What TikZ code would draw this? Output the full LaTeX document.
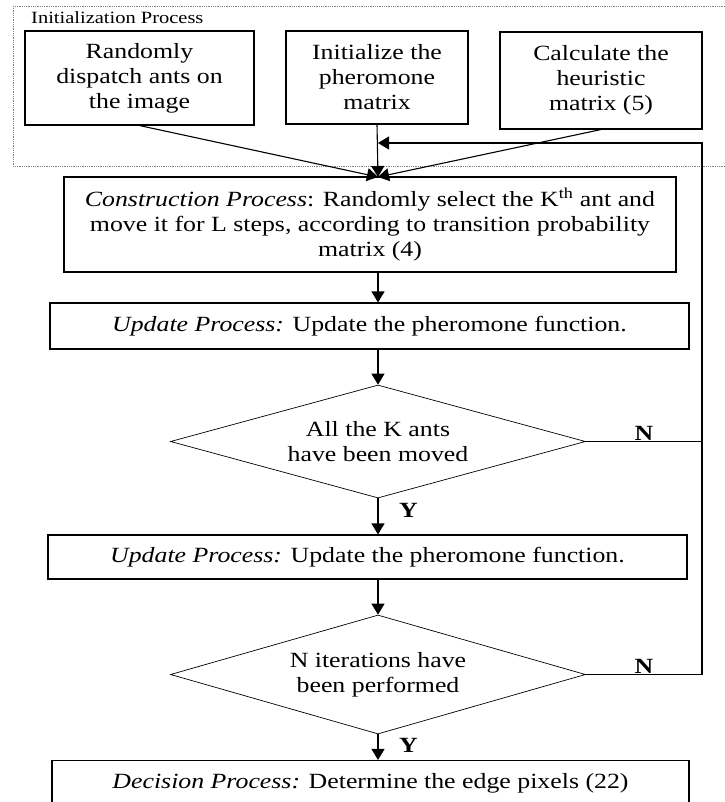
\documentclass[tikz,border=0pt]{standalone}
\usepackage{fontspec}
\setmainfont{Liberation Serif}[FakeStretch=1.19]
\usetikzlibrary{arrows.meta, positioning, shapes.geometric}

\tikzset{
  procbox/.style={draw, line width=1.1pt, align=center, inner sep=0pt},
  decision/.style={draw, diamond, line width=0.7pt, align=center, inner sep=0pt},
  flow/.style={line width=1.1pt, -{Triangle[width=13pt,length=11pt]}},
  yn/.style={font=\fontsize{21.7}{25}\selectfont\bfseries, inner sep=0.5pt},
}

\begin{document}
\begin{tikzpicture}[x=1pt,y=-1pt,font=\fontsize{21.7}{25}\selectfont]
  \useasboundingbox (0,0) rectangle (724,802);
  % initialization frame
  \draw[densely dotted, gray, line width=0.8pt] (13,6) rectangle (740,166);
  \node[anchor=west, inner sep=0pt, font=\fontsize{17.2}{19}\selectfont] (initlbl) at (31,18) {Initialization Process};

  \node[procbox, minimum width=229pt, minimum height=94pt] (dispatch) at (139.5,78) {Randomly\\dispatch ants on\\the image};
  \node[procbox, minimum width=182pt, minimum height=93pt] (initpher) at (377,77.5) {Initialize the\\pheromone\\matrix};
  \node[procbox, minimum width=202pt, minimum height=97pt] (heur) at (601,80.5) {Calculate the\\heuristic\\matrix (5)};

  % main column
  \node[procbox, minimum width=612pt, minimum height=95pt] (cons) at (370,224.5)
    {\textit{Construction Process}: Randomly select the K\textsuperscript{th} ant and\\move it for L steps, according to transition probability\\matrix (4)};
  \node[procbox, minimum width=639pt, minimum height=46pt] (upd1) at (369.5,326)
    {\textit{Update Process:} Update the pheromone function.};
  \node[decision, aspect=3.673, minimum width=415pt, minimum height=113pt] (d1) at (378,441.5)
    {All the K ants\\have been moved};
  \node[procbox, minimum width=639pt, minimum height=44pt] (upd2) at (367.5,557)
    {\textit{Update Process:} Update the pheromone function.};
  \node[decision, aspect=3.487, minimum width=415pt, minimum height=119pt] (d2) at (378,674.5)
    {N iterations have\\been performed};
  \node[procbox, minimum width=637pt, minimum height=45pt] (dec) at (370.5,783)
    {\textit{Decision Process:} Determine the edge pixels (22)};

  \coordinate (join) at (378,177);
  \coordinate (back) at (378,143);
  \coordinate (loopR) at (702,143);

  % arrows
  \draw[flow] (dispatch.south) -- (join);
  \draw[flow] (initpher.south) -- (join);
  \draw[flow] (heur.south) -- (join);
  \draw[flow] (cons.south -| join) -- (upd1.north -| join);
  \draw[flow] (upd1.south -| join) -- (d1.north);
  \draw[flow] (d1.south) -- node[yn, anchor=west, pos=0.32, xshift=20pt] {Y} (upd2.north -| d1.south);
  \draw[flow] (upd2.south -| join) -- (d2.north);
  \draw[flow] (d2.south) -- node[yn, anchor=west, pos=0.44, xshift=20pt] {Y} (dec.north -| d2.south);

  % loop back
  \draw[line width=1.1pt] (d1.east) -- node[yn, above] {N} (d1.east -| loopR);
  \draw[flow] (d2.east) -- node[yn, above] {N} (d2.east -| loopR) -- (loopR) -- (back);
\end{tikzpicture}
\end{document}
